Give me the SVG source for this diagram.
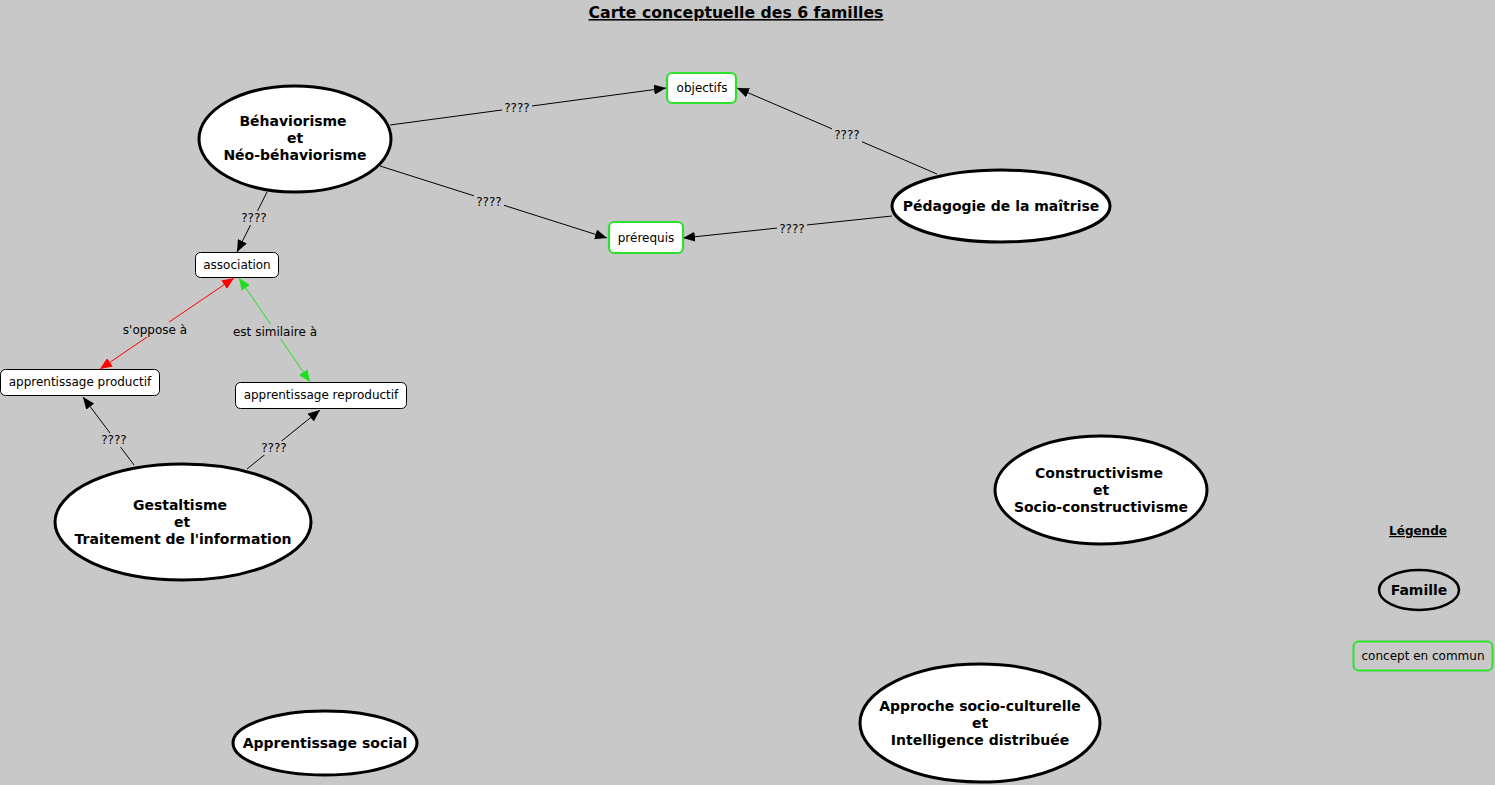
<svg xmlns="http://www.w3.org/2000/svg" width="1495" height="785" viewBox="0 0 1495 785">
<style>
text{font-family:"DejaVu Sans",Verdana,sans-serif;fill:#000;text-anchor:middle}
.fam{fill:#fff;stroke:#000;stroke-width:3}
.ft{font-size:14px;font-weight:bold}
.cc{fill:#fff;stroke:#2ee02e;stroke-width:2.2}
.cb{fill:#fff;stroke:#000;stroke-width:1}
.ct{font-size:12px}
.lk{stroke:#000;stroke-width:1;fill:none}
.lb{fill:#c8c8c8}
.lt{font-size:12px}
</style>
<defs>
<marker id="ab" viewBox="0 0 12 10" refX="12" refY="5" markerWidth="12" markerHeight="10" markerUnits="userSpaceOnUse" orient="auto"><path d="M0,0L12,5L0,10z" fill="#000"/></marker>
<marker id="ar" viewBox="0 0 12 10" refX="12" refY="5" markerWidth="12" markerHeight="10" markerUnits="userSpaceOnUse" orient="auto-start-reverse"><path d="M0,0L12,5L0,10z" fill="#f00"/></marker>
<marker id="ag" viewBox="0 0 12 10" refX="12" refY="5" markerWidth="12" markerHeight="10" markerUnits="userSpaceOnUse" orient="auto-start-reverse"><path d="M0,0L12,5L0,10z" fill="#1ee01e"/></marker>
</defs>
<rect width="1495" height="785" fill="#c8c8c8"/>
<text x="736" y="18" style="font-size:15.7px;font-weight:bold;text-decoration:underline">Carte conceptuelle des 6 familles</text>

<g id="connectors">
<line class="lk" x1="390" y1="125" x2="666" y2="88" marker-end="url(#ab)"/>
<rect class="lb" x="502" y="101" width="30" height="14"/><text class="lt" x="517" y="112">????</text>
<line class="lk" x1="380" y1="166" x2="607" y2="238" marker-end="url(#ab)"/>
<rect class="lb" x="474" y="195" width="30" height="14"/><text class="lt" x="489" y="206">????</text>
<line class="lk" x1="937" y1="174" x2="737" y2="88" marker-end="url(#ab)"/>
<rect class="lb" x="832" y="128" width="30" height="14"/><text class="lt" x="847" y="139">????</text>
<line class="lk" x1="892" y1="216" x2="683" y2="238" marker-end="url(#ab)"/>
<rect class="lb" x="777" y="222" width="30" height="14"/><text class="lt" x="792" y="233">????</text>
<line class="lk" x1="267" y1="192" x2="237" y2="252" marker-end="url(#ab)"/>
<rect class="lb" x="239" y="211" width="30" height="14"/><text class="lt" x="254" y="222">????</text>
<line x1="234" y1="278" x2="100" y2="369" stroke="#f00" stroke-width="1" marker-start="url(#ar)" marker-end="url(#ar)"/>
<rect class="lb" x="121" y="322" width="68" height="15"/><text class="lt" x="155" y="334">s'oppose à</text>
<line x1="239" y1="278" x2="310" y2="382" stroke="#1ee01e" stroke-width="1" marker-start="url(#ag)" marker-end="url(#ag)"/>
<rect class="lb" x="231" y="324" width="88" height="15"/><text class="lt" x="275" y="336">est similaire à</text>
<line class="lk" x1="134" y1="465" x2="83" y2="397" marker-end="url(#ab)"/>
<rect class="lb" x="99" y="433" width="30" height="14"/><text class="lt" x="114" y="444">????</text>
<line class="lk" x1="247" y1="469" x2="320" y2="410" marker-end="url(#ab)"/>
<rect class="lb" x="259" y="441" width="30" height="14"/><text class="lt" x="274" y="452">????</text>
</g>

<g id="behaviorisme"><ellipse class="fam" cx="295" cy="139" rx="96" ry="53"/>
<text class="ft" x="293" y="126">Béhaviorisme</text><text class="ft" x="295" y="143">et</text><text class="ft" x="295" y="160">Néo-béhaviorisme</text></g>
<g id="gestaltisme"><ellipse class="fam" cx="183" cy="522" rx="128" ry="58"/>
<text class="ft" x="180" y="510">Gestaltisme</text><text class="ft" x="182" y="527">et</text><text class="ft" x="183" y="544">Traitement de l'information</text></g>
<g id="pedagogie"><ellipse class="fam" cx="1001" cy="206" rx="109" ry="36"/>
<text class="ft" x="1001" y="211">Pédagogie de la maîtrise</text></g>
<g id="constructivisme"><ellipse class="fam" cx="1101" cy="490" rx="106" ry="54"/>
<text class="ft" x="1099" y="478">Constructivisme</text><text class="ft" x="1101" y="495">et</text><text class="ft" x="1101" y="512">Socio-constructivisme</text></g>
<g id="approche"><ellipse class="fam" cx="980" cy="723" rx="120" ry="59"/>
<text class="ft" x="980" y="711">Approche socio-culturelle</text><text class="ft" x="980" y="728">et</text><text class="ft" x="980" y="745">Intelligence distribuée</text></g>
<g id="social"><ellipse class="fam" cx="325" cy="743" rx="92" ry="32"/>
<text class="ft" x="325" y="748">Apprentissage social</text></g>

<g id="objectifs"><rect class="cc" x="667" y="73" width="69" height="30" rx="5"/><text class="ct" x="702" y="92">objectifs</text></g>
<g id="prerequis"><rect class="cc" x="609" y="222" width="74" height="31" rx="5"/><text class="ct" x="646" y="242">prérequis</text></g>
<g id="association"><rect class="cb" x="195.5" y="252.5" width="83" height="25" rx="5"/><text class="ct" x="237" y="269">association</text></g>
<g id="productif"><rect class="cb" x="0.5" y="369.5" width="159" height="26" rx="5"/><text class="ct" x="80" y="386">apprentissage productif</text></g>
<g id="reproductif"><rect class="cb" x="235.5" y="382.5" width="171" height="26" rx="5"/><text class="ct" x="321" y="399">apprentissage reproductif</text></g>

<g id="legende">
<text x="1418" y="535" style="font-size:12px;font-weight:bold;text-decoration:underline">Légende</text>
<ellipse cx="1419" cy="590" rx="40" ry="20" fill="#c8c8c8" stroke="#000" stroke-width="2.5"/>
<text class="ft" x="1419" y="595">Famille</text>
<rect x="1353.5" y="641.5" width="139" height="29" rx="5" fill="#c8c8c8" stroke="#2ee02e" stroke-width="2"/>
<text class="ct" x="1423" y="660">concept en commun</text>
</g>
</svg>
